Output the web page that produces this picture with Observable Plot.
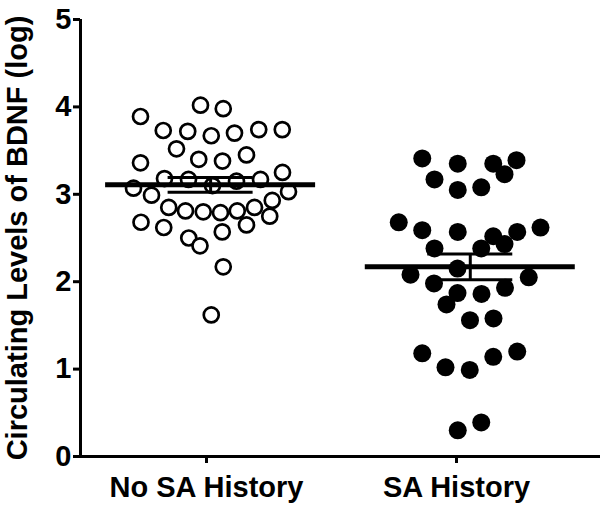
<!DOCTYPE html>
<html>
<head>
<meta charset="utf-8">
<script src="https://cdn.jsdelivr.net/npm/d3@7"></script>
<script src="https://cdn.jsdelivr.net/npm/@observablehq/plot@0.6"></script>
<style>
  html, body { margin: 0; padding: 0; background: #fff; }
</style>
</head>
<body>
<div id="chart"></div>
<script>
// ---- data ----
const categories = ["No SA History", "SA History"];
const yLabel = "Circulating Levels of BDNF (log)";
const yTicks = [0, 1, 2, 3, 4, 5];

// No SA History: values and horizontal scatter offsets (in category units)
const noSAValues = [3.89, 4.02, 3.98, 3.73, 3.72, 3.67, 3.70, 3.74, 3.74, 3.52,
  3.36, 3.40, 3.38, 3.45, 3.25, 3.18, 3.17, 3.10, 3.15, 3.17,
  3.07, 2.99, 3.03, 2.93, 2.85, 2.81, 2.80, 2.79, 2.81, 2.85,
  2.75, 2.68, 2.62, 2.57, 2.65, 2.50, 2.41, 2.17, 1.62];
const noSAJitter = [-0.264, -0.024, 0.067, -0.173, -0.075, 0.019, 0.112, 0.209, 0.303, -0.12,
  -0.264, -0.031, 0.064, 0.16, 0.304, -0.168, -0.072, 0.024, 0.12, 0.216,
  -0.292, -0.22, 0.328, 0.263, -0.151, -0.084, -0.013, 0.056, 0.123, 0.192,
  0.253, -0.262, -0.171, 0.063, 0.16, -0.071, -0.026, 0.067, 0.019];

// SA History
const saValues = [3.41, 3.35, 3.35, 3.39, 3.17, 3.05, 3.08, 3.23, 2.68, 2.59,
  2.57, 2.52, 2.57, 2.62, 2.38, 2.38, 2.43, 2.08, 2.15, 2.05,
  1.98, 1.87, 1.86, 1.93, 1.74, 1.56, 1.58, 1.18, 1.02, 0.99,
  1.14, 1.20, 0.30, 0.39];
const saJitter = [-0.137, 0.005, 0.147, 0.24, -0.088, 0.005, 0.099, 0.192, -0.231, -0.137,
  0.005, 0.147, 0.243, 0.336, -0.088, 0.099, 0.192, -0.184, 0.004, 0.289,
  -0.09, 0.004, 0.1, 0.194, -0.04, 0.054, 0.148, -0.137, -0.044, 0.053,
  0.147, 0.243, 0.005, 0.099];

// ---- build tables ----
const noSA = noSAValues.map((v, i) => ({group: 0, x: 1 + noSAJitter[i], y: v}));
const sa = saValues.map((v, i) => ({group: 1, x: 2 + saJitter[i], y: v}));

function summary(rows) {
  const m = d3.mean(rows, d => d.y);
  const sem = d3.deviation(rows, d => d.y) / Math.sqrt(rows.length);
  const cx = d3.mean(rows, d => d.x);
  return {cx, mean: m, lo: m - sem, hi: m + sem};
}
const stats = [summary(noSA), summary(sa)];
const meanHalf = 0.42, semHalf = 0.17;

const xDomain = [0.496, 2.576];
const font = "Liberation Sans, Arial, Helvetica, sans-serif";

const chart = Plot.plot({
  width: 600,
  height: 505,
  marginLeft: 80,
  marginRight: 0,
  marginTop: 19,
  marginBottom: 49,
  style: {fontFamily: font, fontWeight: "bold", background: "#fff", color: "#000"},
  x: {type: "linear", domain: xDomain},
  y: {domain: [0, 5]},
  marks: [
    Plot.axisY({ticks: yTicks, tickSize: 7, tickPadding: 2, fontSize: 29, fontWeight: "bold",
      strokeWidth: 3, label: null, tickFormat: d3.format("d")}),
    Plot.axisX({ticks: [1, 2], tickSize: 7, tickPadding: 13, fontSize: 29, fontWeight: "bold",
      strokeWidth: 3, label: null, tickFormat: d => categories[d - 1]}),
    Plot.ruleY([0], {stroke: "#000", strokeWidth: 3}),
    Plot.ruleX([xDomain[0]], {y1: 0, y2: 5, stroke: "#000", strokeWidth: 3}),
    Plot.dot(noSA, {x: "x", y: "y", r: 7.5, fill: "#fff", stroke: "#000", strokeWidth: 2.7}),
    Plot.dot(sa, {x: "x", y: "y", r: 9, fill: "#000", stroke: "none"}),
    // mean lines
    Plot.ruleY(stats, {y: "mean", x1: d => d.cx - meanHalf, x2: d => d.cx + meanHalf, stroke: "#000", strokeWidth: 5}),
    // SEM whiskers
    Plot.ruleX(stats, {x: "cx", y1: "lo", y2: "hi", stroke: "#000", strokeWidth: 3}),
    Plot.ruleY(stats, {y: "lo", x1: d => d.cx - semHalf, x2: d => d.cx + semHalf, stroke: "#000", strokeWidth: 3}),
    Plot.ruleY(stats, {y: "hi", x1: d => d.cx - semHalf, x2: d => d.cx + semHalf, stroke: "#000", strokeWidth: 3}),
    Plot.text([yLabel], {frameAnchor: "left", textAnchor: "middle", lineAnchor: "middle", rotate: -90, dx: -63,
      fontSize: 29, fontWeight: "bold", text: d => d})
  ]
});
document.getElementById("chart").appendChild(chart);
</script>
</body>
</html>
